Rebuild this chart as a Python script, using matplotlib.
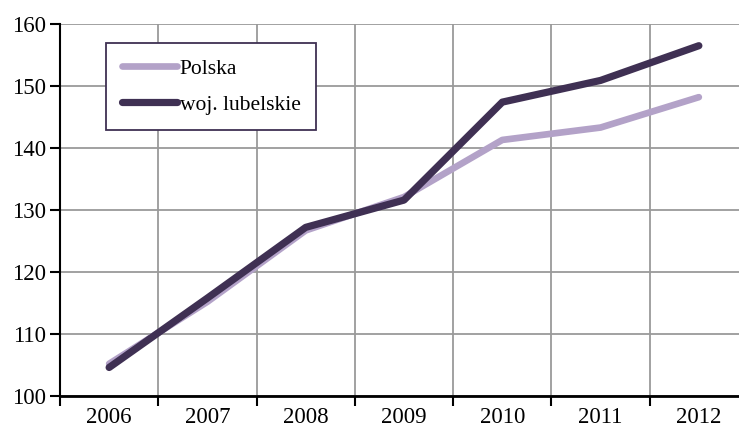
import matplotlib
matplotlib.use("Agg")
import matplotlib.pyplot as plt
from matplotlib.ticker import FixedLocator

years = ["2006", "2007", "2008", "2009", "2010", "2011", "2012"]
polska = [105.2, 115.2, 126.7, 132.1, 141.3, 143.3, 148.2]
lubelskie = [104.6, 115.8, 127.2, 131.6, 147.4, 150.9, 156.5]
y_ticks = [100, 110, 120, 130, 140, 150, 160]

plt.rcParams['font.family'] = ['Liberation Serif', 'DejaVu Serif']

W, H = 739, 428
fig = plt.figure(figsize=(W / 100, H / 100), dpi=100)
ax = fig.add_axes([60 / W, (H - 396) / H, 688 / W, 372 / H])

x = list(range(len(years)))
ax.plot(x, polska, color='#b3a2c8', lw=4.8, solid_capstyle='round', solid_joinstyle='round', label='Polska', zorder=3)
ax.plot(x, lubelskie, color='#3f3053', lw=5.2, solid_capstyle='round', solid_joinstyle='round', label='woj. lubelskie', zorder=4)

ax.set_xlim(-0.5, len(years) - 0.5)
ax.set_ylim(100, 160)
ax.set_xticks(x)
ax.set_xticklabels(years)
ax.xaxis.set_minor_locator(FixedLocator([i - 0.5 for i in range(len(years) + 1)]))
ax.set_yticks(y_ticks)

ax.tick_params(axis='x', which='major', length=0, pad=8, labelsize=16.5)
ax.tick_params(axis='x', which='minor', length=7, width=1.5, direction='out', color='black')
ax.tick_params(axis='y', which='major', length=7, width=1.5, direction='out', color='black', labelsize=16.5, pad=3)

ax.grid(False)
ax.xaxis.grid(True, which='minor', color='#9a9a9a', lw=1.3)
ax.yaxis.grid(True, which='major', color='#9a9a9a', lw=1.3)
ax.set_axisbelow(True)

for s in ['top', 'right']:
    ax.spines[s].set_visible(False)
ax.spines['left'].set_linewidth(1.5)
ax.spines['bottom'].set_linewidth(2)
ax.spines['bottom'].set_zorder(5)

leg = ax.legend(loc='upper left', bbox_to_anchor=(0.0669, 0.949), borderaxespad=0,
                fontsize=15.5, handlelength=2.6, handletextpad=0.1, labelspacing=0.75,
                borderpad=0.72, fancybox=False, frameon=True, framealpha=1)
leg.get_frame().set_edgecolor('#3f3053')
leg.get_frame().set_linewidth(1.3)
leg.set_zorder(6)

fig.savefig('out.png', dpi=100)
